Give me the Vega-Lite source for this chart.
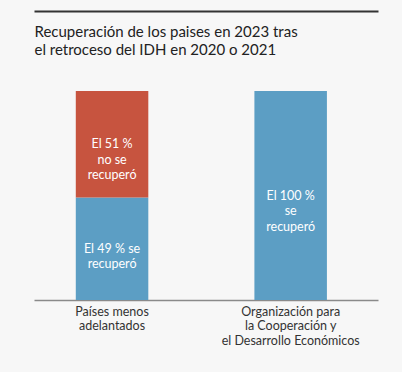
{
  "$schema": "https://vega.github.io/schema/vega-lite/v6.json",
  "width": 344,
  "height": 209,
  "autosize": {"type": "none"},
  "padding": {"left": 34, "right": 24, "top": 91, "bottom": 72},
  "background": "#f7f7f7",
  "config": {"view": {"stroke": null}, "font": "Lato"},
  "data": {
    "values": [
      {"group": "Países menos adelantados", "status": "se recuperó", "value": 49, "order": 1, "label": "El 49 % se\nrecuperó"},
      {"group": "Países menos adelantados", "status": "no se recuperó", "value": 51, "order": 2, "label": "El 51 %\nno se\nrecuperó"},
      {"group": "Organización para la Cooperación y el Desarrollo Económicos", "status": "se recuperó", "value": 100, "order": 1, "label": "El 100 %\nse\nrecuperó"}
    ]
  },
  "transform": [
    {"stack": "value", "groupby": ["group"], "sort": [{"field": "order", "order": "ascending"}], "as": ["y0", "y1"]},
    {"calculate": "(datum.y0 + datum.y1) / 2", "as": "mid"}
  ],
  "layer": [
    {
      "mark": {"type": "bar"},
      "encoding": {
        "x": {
          "field": "group", "type": "nominal", "sort": null,
          "scale": {"paddingInner": 0.594, "paddingOuter": 0.26, "align": 0.45},
          "axis": {
            "orient": "bottom", "title": null, "ticks": false,
            "domainColor": "#8a8a8a", "domainWidth": 1.5,
            "labelAngle": 0, "labelPadding": 5, "labelFontSize": 12.5, "labelLineHeight": 14.5,
            "labelColor": "#333333", "labelFont": "Lato",
            "labelExpr": "datum.label == 'Países menos adelantados' ? ['Países menos', 'adelantados'] : ['Organización para', 'la Cooperación y', 'el Desarrollo Económicos']"
          }
        },
        "y": {"field": "y0", "type": "quantitative", "scale": {"domain": [0, 100], "nice": false, "zero": true}, "axis": null},
        "y2": {"field": "y1"},
        "color": {
          "field": "status", "type": "nominal",
          "scale": {"domain": ["se recuperó", "no se recuperó"], "range": ["#5c9ec4", "#c7543f"]},
          "legend": null
        }
      }
    },
    {
      "mark": {"type": "text", "color": "white", "fontSize": 12.5, "lineHeight": 15.5, "lineBreak": "\n", "align": "center", "baseline": "middle", "font": "Lato"},
      "encoding": {
        "x": {
          "field": "group", "type": "nominal", "sort": null,
          "axis": {
            "orient": "top", "offset": 80, "domain": true, "domainColor": "#333333", "domainWidth": 2,
            "ticks": false, "labels": false,
            "title": ["Recuperación de los paises en 2023 tras", "el retroceso del IDH en 2020 o 2021"],
            "titleAnchor": "start", "titleAlign": "left", "titleBaseline": "top",
            "titleX": 0, "titleY": 13.6, "titleFontSize": 15, "titleFontWeight": "normal",
            "titleColor": "#222222", "titleLineHeight": 18, "titleFont": "Lato"
          }
        },
        "y": {"field": "mid", "type": "quantitative"},
        "text": {"field": "label", "type": "nominal"}
      }
    }
  ],
  "resolve": {"axis": {"x": "independent"}}
}
